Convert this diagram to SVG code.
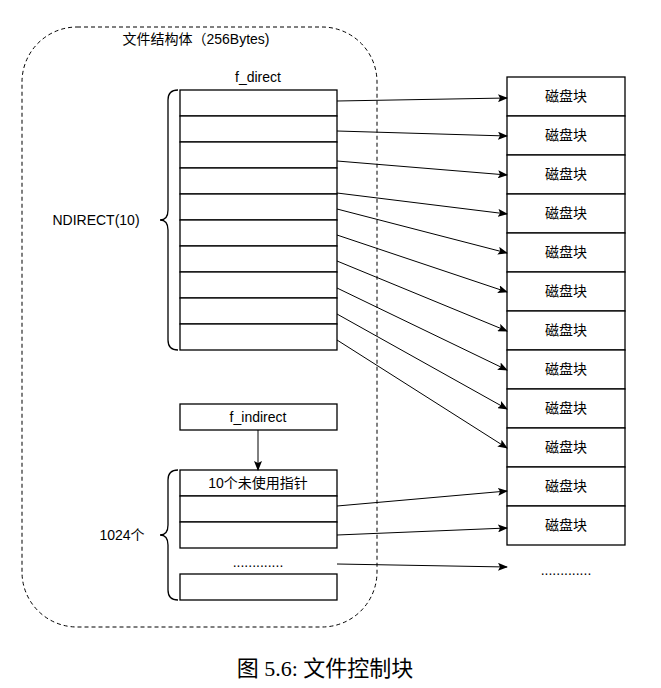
<svg xmlns="http://www.w3.org/2000/svg" width="661" height="688" viewBox="0 0 661 688">
<defs><marker id="a" markerWidth="10" markerHeight="8" refX="9" refY="4" orient="auto" markerUnits="userSpaceOnUse"><path d="M0,0 L10,4 L0,8 L2,4 Z" fill="#000"/></marker></defs>
<style>text{font-family:"Liberation Sans","Noto Sans CJK SC",sans-serif;font-size:14px;text-anchor:middle}.r{fill:#fff;stroke:#000;stroke-width:1.3}.c{stroke:#000;stroke-width:1;fill:none;marker-end:url(#a)}.b{fill:none;stroke:#000;stroke-width:1.3}</style>
<rect width="661" height="688" fill="#fff"/>
<rect x="22" y="27" width="355" height="600" rx="55" fill="none" stroke="#000" stroke-dasharray="4 3"/>
<text x="196" y="44">文件结构体（256Bytes)</text>
<g id="direct">
<text x="258" y="82">f_direct</text>
<rect class="r" x="180" y="90" width="157" height="26"/><rect class="r" x="180" y="116" width="157" height="26"/><rect class="r" x="180" y="142" width="157" height="26"/><rect class="r" x="180" y="168" width="157" height="26"/><rect class="r" x="180" y="194" width="157" height="26"/><rect class="r" x="180" y="220" width="157" height="26"/><rect class="r" x="180" y="246" width="157" height="26"/><rect class="r" x="180" y="272" width="157" height="26"/><rect class="r" x="180" y="298" width="157" height="26"/><rect class="r" x="180" y="324" width="157" height="26"/>
<path class="b" d="M178,90 Q168,90 168,100 L168,210 Q168,220 160,220 Q168,220 168,230 L168,340 Q168,350 178,350"/>
<text x="96" y="225">NDIRECT(10)</text>
</g>
<g id="findirect"><rect class="r" x="180" y="404" width="157" height="26"/><text x="258" y="422">f_indirect</text></g>
<g id="indirect">
<rect class="r" x="180" y="470" width="157" height="26"/><text x="258" y="488">10个未使用指针</text>
<rect class="r" x="180" y="496" width="157" height="26"/><rect class="r" x="180" y="522" width="157" height="26"/>
<text x="258" y="567">.............</text>
<rect class="r" x="180" y="574" width="157" height="26"/>
<path class="b" d="M178,470 Q168,470 168,480 L168,525 Q168,535 160,535 Q168,535 168,545 L168,590 Q168,600 178,600"/>
<text x="122" y="540">1024个</text>
</g>
<g id="disks">
<g id="d1"><rect class="r" x="507" y="77" width="118" height="39"/><text x="566" y="101">磁盘块</text></g>
<g id="d2"><rect class="r" x="507" y="116" width="118" height="39"/><text x="566" y="140">磁盘块</text></g>
<g id="d3"><rect class="r" x="507" y="155" width="118" height="39"/><text x="566" y="179">磁盘块</text></g>
<g id="d4"><rect class="r" x="507" y="194" width="118" height="39"/><text x="566" y="218">磁盘块</text></g>
<g id="d5"><rect class="r" x="507" y="233" width="118" height="39"/><text x="566" y="257">磁盘块</text></g>
<g id="d6"><rect class="r" x="507" y="272" width="118" height="39"/><text x="566" y="296">磁盘块</text></g>
<g id="d7"><rect class="r" x="507" y="311" width="118" height="39"/><text x="566" y="335">磁盘块</text></g>
<g id="d8"><rect class="r" x="507" y="350" width="118" height="39"/><text x="566" y="374">磁盘块</text></g>
<g id="d9"><rect class="r" x="507" y="389" width="118" height="39"/><text x="566" y="413">磁盘块</text></g>
<g id="d10"><rect class="r" x="507" y="428" width="118" height="39"/><text x="566" y="452">磁盘块</text></g>
<g id="d11"><rect class="r" x="507" y="467" width="118" height="39"/><text x="566" y="491">磁盘块</text></g>
<g id="d12"><rect class="r" x="507" y="506" width="118" height="39"/><text x="566" y="530">磁盘块</text></g>
<text x="566" y="575">.............</text>
</g>
<g id="connectors">
<path class="c" d="M337,101 L507,98"/><path class="c" d="M337,131 L507,136"/><path class="c" d="M337,161 L507,175"/><path class="c" d="M337,193 L507,214"/><path class="c" d="M337,209 L507,253"/><path class="c" d="M337,235 L507,292"/><path class="c" d="M337,261 L507,331"/><path class="c" d="M337,288 L507,370"/><path class="c" d="M337,314 L507,409"/><path class="c" d="M337,340 L507,448"/>
<path class="c" d="M337,506 L507,491"/><path class="c" d="M337,535 L507,528"/><path class="c" d="M337,564 L507,567"/>
<path class="c" d="M258,430 L258,470"/>
</g>
<text x="325" y="676" style="font-family:'Liberation Serif','Noto Sans CJK SC',serif;font-size:22px">图 5.6: 文件控制块</text>
</svg>
